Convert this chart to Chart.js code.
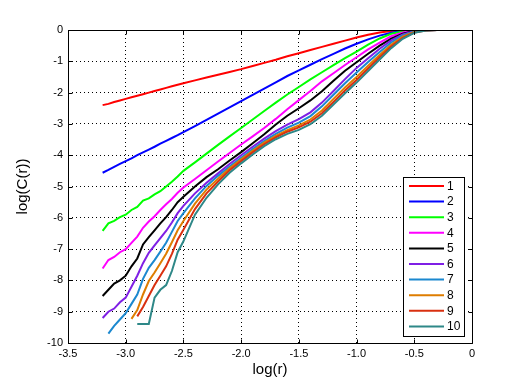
<!DOCTYPE html>
<html>
<head>
<meta charset="utf-8">
<script src="https://cdn.jsdelivr.net/npm/chart.js@4.4.1/dist/chart.umd.min.js"></script>
<style>
html,body{margin:0;padding:0;background:#fff;}
canvas{position:absolute;left:0;top:0;}
</style>
</head>
<body>
<canvas id="c" width="522" height="385"></canvas>
<script>
// log(r) sample positions
const logR = [-3.2,-3.15,-3.1,-3.05,-3.0,-2.95,-2.9,-2.85,-2.8,-2.75,-2.7,-2.65,-2.6,-2.55,-2.5,
  -2.4,-2.3,-2.2,-2.1,-2.0,-1.9,-1.8,-1.7,-1.6,-1.5,-1.4,-1.3,-1.2,-1.1,-1.0,-0.9,-0.8,-0.7,-0.6,-0.5,-0.4,-0.3,-0.2];

// log(C(r)) for embedding dimensions 1..10
const m1 = [-2.40,-2.36,-2.30,-2.25,-2.20,-2.15,-2.10,-2.05,-2.00,-1.95,-1.90,-1.85,-1.80,-1.75,-1.70,
  -1.61,-1.52,-1.43,-1.34,-1.25,-1.15,-1.05,-0.95,-0.84,-0.74,-0.64,-0.54,-0.44,-0.34,-0.24,-0.15,-0.08,-0.035,-0.01,0,0,0,0];
const m2 = [-4.56,-4.47,-4.37,-4.28,-4.19,-4.10,-4.00,-3.91,-3.82,-3.73,-3.63,-3.54,-3.45,-3.36,-3.26,
  -3.07,-2.87,-2.67,-2.47,-2.27,-2.07,-1.87,-1.67,-1.47,-1.29,-1.11,-0.93,-0.76,-0.59,-0.44,-0.30,-0.18,-0.09,-0.035,-0.01,0,0,0];
const m3 = [-6.42,-6.18,-6.10,-5.98,-5.90,-5.75,-5.65,-5.45,-5.38,-5.25,-5.15,-5.00,-4.85,-4.68,-4.50,
  -4.23,-3.95,-3.67,-3.40,-3.13,-2.86,-2.59,-2.32,-2.06,-1.82,-1.58,-1.35,-1.12,-0.90,-0.69,-0.47,-0.27,-0.12,-0.05,-0.015,0,0,0];
const m4 = [-7.62,-7.35,-7.25,-7.10,-7.00,-6.80,-6.60,-6.32,-6.12,-5.95,-5.75,-5.57,-5.40,-5.20,-5.03,
  -4.76,-4.48,-4.20,-3.93,-3.66,-3.40,-3.13,-2.84,-2.53,-2.24,-1.95,-1.64,-1.38,-1.12,-0.87,-0.62,-0.40,-0.20,-0.08,-0.02,0,0,0];
const m5 = [-8.50,-8.30,-8.10,-8.00,-7.85,-7.55,-7.30,-6.85,-6.62,-6.40,-6.18,-5.98,-5.75,-5.50,-5.33,
  -5.00,-4.70,-4.45,-4.17,-3.90,-3.62,-3.33,-3.02,-2.74,-2.50,-2.25,-1.96,-1.62,-1.30,-1.03,-0.76,-0.50,-0.28,-0.12,-0.03,-0.005,0,0];
const m6 = [-9.20,-9.00,-8.90,-8.70,-8.55,-8.20,-7.85,-7.45,-7.12,-6.88,-6.65,-6.42,-6.15,-5.85,-5.62,
  -5.22,-4.88,-4.58,-4.28,-4.00,-3.73,-3.47,-3.23,-3.02,-2.85,-2.63,-2.32,-1.95,-1.57,-1.21,-0.90,-0.60,-0.33,-0.14,-0.04,-0.01,0,0];
const m7 = [null,-9.70,-9.45,-9.25,-9.05,-8.75,-8.45,-7.95,-7.60,-7.35,-7.08,-6.80,-6.45,-6.10,-5.85,
  -5.38,-4.98,-4.66,-4.36,-4.08,-3.80,-3.55,-3.32,-3.12,-2.96,-2.75,-2.44,-2.07,-1.70,-1.36,-1.02,-0.70,-0.40,-0.17,-0.05,-0.01,0,0];
const m8 = [null,null,null,null,null,-9.23,-8.95,-8.45,-8.02,-7.75,-7.45,-7.15,-6.78,-6.40,-6.10,
  -5.55,-5.10,-4.75,-4.42,-4.13,-3.86,-3.60,-3.38,-3.20,-3.05,-2.86,-2.57,-2.20,-1.84,-1.50,-1.14,-0.80,-0.47,-0.21,-0.06,-0.01,0,0];
const m9 = [null,null,null,null,null,null,-9.15,-8.85,-8.50,-8.15,-7.85,-7.55,-7.15,-6.70,-6.38,
  -5.72,-5.22,-4.84,-4.48,-4.19,-3.91,-3.65,-3.43,-3.25,-3.11,-2.93,-2.66,-2.30,-1.93,-1.60,-1.23,-0.87,-0.53,-0.25,-0.08,-0.015,0,0];
const m10 = [null,null,null,null,null,null,-9.39,-9.39,-9.39,-8.55,-8.30,-8.15,-7.70,-7.10,-6.75,
  -5.90,-5.36,-4.93,-4.56,-4.26,-3.98,-3.71,-3.49,-3.32,-3.19,-3.01,-2.74,-2.38,-2.02,-1.68,-1.31,-0.94,-0.58,-0.28,-0.09,-0.02,0,0];

const seriesLabels = ['1','2','3','4','5','6','7','8','9','10'];
const seriesValues = [m1,m2,m3,m4,m5,m6,m7,m8,m9,m10];
const seriesColors = ['#ff0000','#0000ff','#00ff00','#ff00ff','#000000','#7f1fe5','#1b88cf','#de7d00','#d93010','#2e8888'];

const xTicks = [-3.5,-3,-2.5,-2,-1.5,-1,-0.5,0];
const yTicks = [-10,-9,-8,-7,-6,-5,-4,-3,-2,-1,0];

Chart.defaults.font.family = "'Liberation Sans', Arial, sans-serif";
Chart.defaults.font.size = 11;
Chart.defaults.color = '#000';

const datasets = seriesValues.map((vals, i) => ({
  label: seriesLabels[i],
  data: logR.map((x, j) => ({x: x, y: vals[j]})),
  borderColor: seriesColors[i],
  backgroundColor: seriesColors[i],
  borderWidth: 2,
  pointRadius: 0,
  tension: 0,
  fill: false,
  spanGaps: false,
  order: seriesValues.length - i
}));

const boxPlugin = {
  id: 'boxPlugin',
  afterDraw(chart) {
    const ctx = chart.ctx;
    const a = chart.chartArea;
    const xs = chart.scales.x, ys = chart.scales.y;
    ctx.save();
    ctx.strokeStyle = '#000';
    ctx.lineWidth = 1;
    const L = Math.round(a.left) + 0.5, R = Math.round(a.right) + 0.5;
    const T = Math.round(a.top) + 0.5, B = Math.round(a.bottom) + 0.5;
    ctx.beginPath();
    ctx.rect(L, T, R - L, B - T);
    ctx.stroke();
    const tl = 4;
    ctx.beginPath();
    xTicks.forEach(v => {
      const p = Math.round(xs.getPixelForValue(v)) + 0.5;
      ctx.moveTo(p, B); ctx.lineTo(p, B - tl);
      ctx.moveTo(p, T); ctx.lineTo(p, T + tl);
    });
    yTicks.forEach(v => {
      const p = Math.round(ys.getPixelForValue(v)) + 0.5;
      ctx.moveTo(L, p); ctx.lineTo(L + tl, p);
      ctx.moveTo(R, p); ctx.lineTo(R - tl, p);
    });
    ctx.stroke();

    // legend box
    const lx = 403.5, ly = 177.5, lw = 61, lh = 159;
    ctx.fillStyle = '#fff';
    ctx.fillRect(lx, ly, lw, lh);
    ctx.strokeRect(lx, ly, lw, lh);
    ctx.font = "12px 'Liberation Sans', Arial, sans-serif";
    ctx.textBaseline = 'middle';
    ctx.textAlign = 'left';
    chart.data.datasets.forEach((ds, i) => {
      const y = 186 + i * 15.6;
      ctx.strokeStyle = ds.borderColor;
      ctx.lineWidth = 2;
      ctx.beginPath();
      ctx.moveTo(409, y); ctx.lineTo(444, y);
      ctx.stroke();
      ctx.fillStyle = '#000';
      ctx.fillText(ds.label, 447, y + 0.5);
    });
    ctx.restore();
  }
};

new Chart(document.getElementById('c'), {
  type: 'line',
  data: { datasets: datasets },
  options: {
    responsive: false,
    animation: false,
    devicePixelRatio: 1,
    layout: { padding: { left: 0, top: 30, right: 50, bottom: 0 } },
    plugins: { legend: { display: false }, tooltip: { enabled: false } },
    scales: {
      x: {
        type: 'linear',
        min: -3.5, max: 0,
        afterBuildTicks: (s) => { s.ticks = xTicks.map(v => ({value: v})); },
        ticks: { padding: 4, maxRotation: 0, autoSkip: false, font: { size: 11 } },
        grid: { color: '#000', lineWidth: 1, drawTicks: false },
        border: { display: false, dash: [1, 3] },
        title: { display: true, text: 'log(r)', font: { size: 15 }, padding: { top: 0, bottom: 6 } },
        afterFit: (s) => { s.height = 42; }
      },
      y: {
        type: 'linear',
        min: -10, max: 0,
        afterBuildTicks: (s) => { s.ticks = yTicks.map(v => ({value: v})); },
        ticks: { padding: 5, autoSkip: false, font: { size: 11 } },
        grid: { color: '#000', lineWidth: 1, drawTicks: false },
        border: { display: false, dash: [1, 3] },
        title: { display: true, text: 'log(C(r))', font: { size: 15 }, padding: { top: 14, bottom: 0 } },
        afterFit: (s) => { s.width = 68; }
      }
    }
  },
  plugins: [boxPlugin]
});
</script>
</body>
</html>
